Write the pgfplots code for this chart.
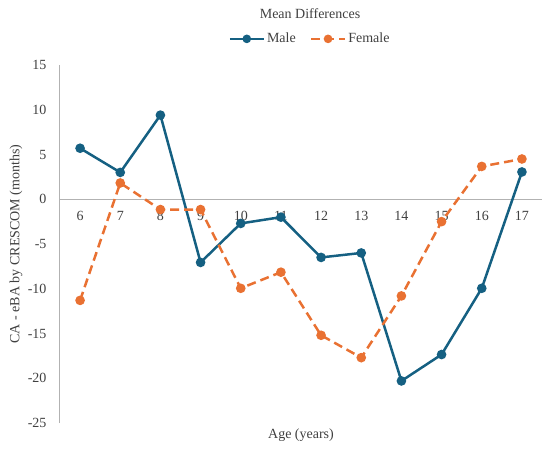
\documentclass[border=0pt]{standalone}
\usepackage{pgfplots}
\pgfplotsset{compat=1.18}
\usepackage{fontspec}
\setmainfont{Liberation Serif}
\definecolor{male}{HTML}{156082}
\definecolor{female}{HTML}{E97132}
\definecolor{txt}{HTML}{404040}
\newcommand{\cf}{\fontsize{14bp}{17bp}\selectfont}
\begin{document}
\begin{tikzpicture}
\path[use as bounding box] (-60bp,-27bp) rectangle (490bp,423bp);
\begin{axis}[
  at={(0,0)}, anchor=south west,
  scale only axis, width=482bp, height=358bp,
  xmin=5.5, xmax=17.5, ymin=-25, ymax=15,
  axis x line=middle, axis y line=left,
  axis line style={-, draw=black!30, line width=1bp},
  major tick length=0pt,
  xtick={6,7,...,17},
  ytick={-25,-20,-15,-10,-5,0,5,10,15},
  yticklabels={-25,-20,-15,-10,-5,0,5,10,15},
  /pgf/number format/assume math mode=true,
  ticklabel style={font=\cf, text=txt},
  xticklabel style={anchor=center, yshift=-16.5bp},
  yticklabel style={anchor=east, xshift=-10bp},
  xlabel={Age (years)},
  ylabel={CA - eBA by CRESCOM (months)},
  xlabel style={font=\cf, text=txt, at={(axis description cs:0.5,-0.0335)}, anchor=center},
  ylabel style={font=\cf, text=txt, at={(axis description cs:-0.0913,0.5)}, anchor=center},
  title={Mean Differences},
  title style={font=\cf, text=txt, at={(axis description cs:0.5187,1.128)}, anchor=center},
  legend columns=2,
  legend style={font=\cf, text=txt, draw=none, fill=none,
    at={(axis description cs:0.5187,1.073)}, anchor=center,
    /tikz/every even column/.append style={column sep=12bp}},
  legend image code/.code={\draw[mark repeat=2,mark phase=2,#1,mark size=3bp] plot coordinates {(0bp,0bp)(17bp,0bp)(34bp,0bp)};},
  clip=false,
]
\addplot[color=male, line width=2.5bp, mark=*, mark size=3.5bp, mark options={solid}]
coordinates {(6,5.7) (7,3.0) (8,9.4) (9,-7.06) (10,-2.7) (11,-2.0) (12,-6.5) (13,-6.0) (14,-20.3) (15,-17.35) (16,-9.95) (17,3.05)};
\addlegendentry{Male}
\addplot[color=female, line width=2.5bp, dash pattern=on 9bp off 5bp, mark=*, mark size=3.5bp, mark options={solid}]
coordinates {(6,-11.3) (7,1.82) (8,-1.15) (9,-1.15) (10,-9.95) (11,-8.15) (12,-15.2) (13,-17.7) (14,-10.8) (15,-2.5) (16,3.67) (17,4.5)};
\addlegendentry{Female}
\end{axis}
\end{tikzpicture}
\end{document}
